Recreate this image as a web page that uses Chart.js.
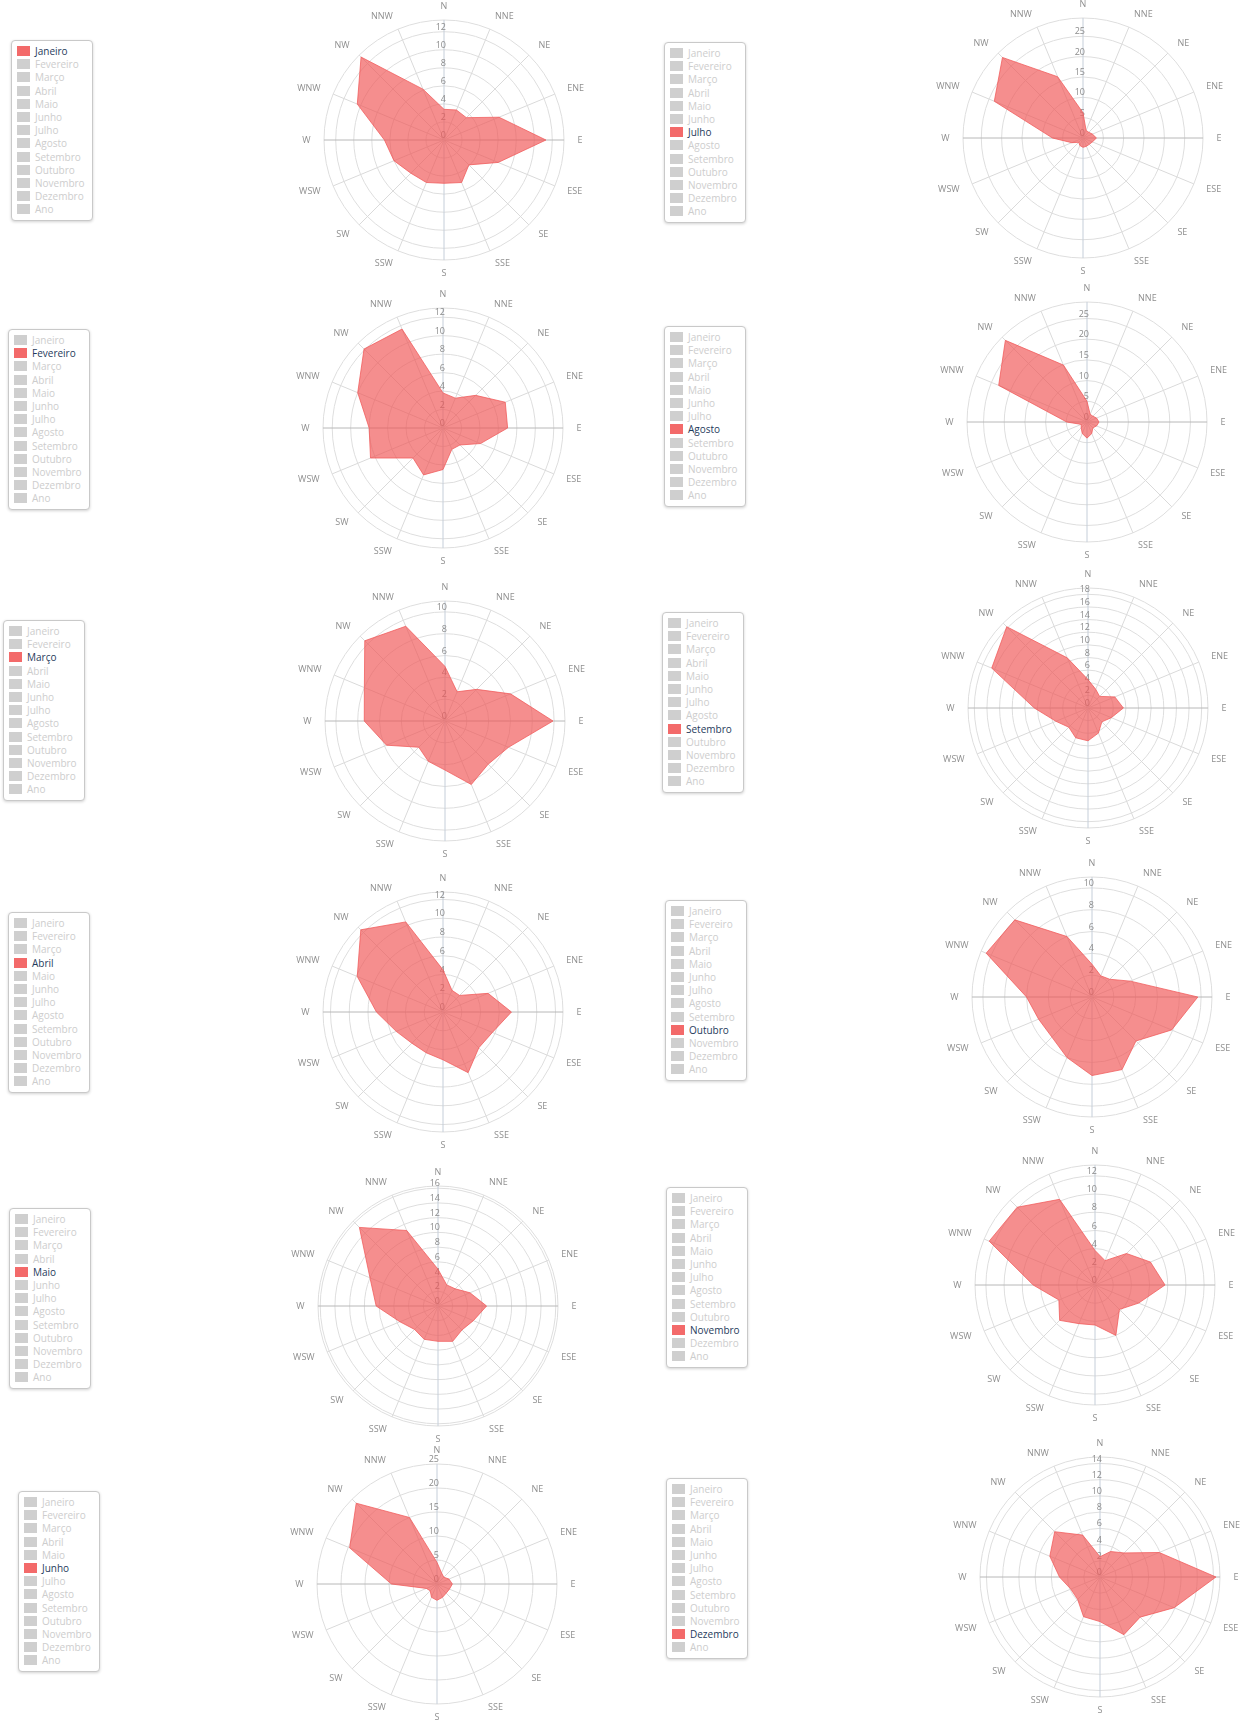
<!DOCTYPE html>
<html>
<head>
<meta charset="utf-8">
<script src="https://cdn.jsdelivr.net/npm/chart.js@4.4.1/dist/chart.umd.min.js"></script>
<style>
    body { margin: 0; background: #fff; font-family: "Open Sans", sans-serif; }
    #pagina { position: relative; width: 1247px; height: 1721px; overflow: hidden; }
    .legenda { position: absolute; border: 1px solid #c9c9c9; border-radius: 4px; box-shadow: 0 1px 3px rgba(0,0,0,0.18); padding: 4px 7px 4px 5px; background: #fff; z-index: 2; }
    .legenda div { font-size: 10px; line-height: 13.2px; height: 13.2px; color: #cdcdcd; white-space: nowrap; }
    .legenda span { display: inline-block; width: 13px; height: 10px; background: #cfcfcf; margin-right: 5px; vertical-align: -1px; }
    .legenda .ativo { color: #1f3b5c; }
    .legenda .ativo span { background: #f36a6a; }
    .grafico { position: absolute; }
</style>
</head>
<body>
<div id="pagina"></div>
<script>
// direcoes do vento (ordem horaria a partir do Norte)
var direcoes = ['N', 'NNE', 'NE', 'ENE', 'E', 'ESE', 'SE', 'SSE', 'S', 'SSW', 'SW', 'WSW', 'W', 'WNW', 'NW', 'NNW'];
var legendaItens = ['Janeiro', 'Fevereiro', 'Março', 'Abril', 'Maio', 'Junho', 'Julho', 'Agosto', 'Setembro', 'Outubro', 'Novembro', 'Dezembro', 'Ano'];

// frequencia (%) por direcao, um array por mes
var janeiro   = [3.4, 3.6, 3.5, 6.6, 11.3, 6.5, 3.9, 5.1, 4.8, 5.1, 5.2, 6.0, 6.6, 10.4, 13.0, 6.1];
var fevereiro = [3.8, 3.5, 5.0, 7.3, 7.0, 4.4, 2.6, 2.5, 4.5, 5.5, 4.6, 8.5, 8.0, 10.0, 12.1, 11.6];
var marco     = [5.0, 2.9, 4.1, 6.5, 9.9, 6.3, 5.6, 6.3, 4.5, 4.0, 3.4, 5.8, 7.4, 8.0, 10.4, 9.4];
var abril     = [4.5, 2.5, 2.5, 5.2, 7.3, 5.7, 5.4, 7.0, 5.1, 4.7, 4.7, 5.4, 7.1, 9.9, 12.4, 10.4];
var maio      = [5.0, 3.1, 3.3, 4.7, 6.6, 5.2, 4.6, 5.2, 4.8, 4.9, 4.5, 5.6, 8.4, 10.0, 15.1, 11.1];
var junho     = [4.5, 2.5, 2.0, 2.7, 3.2, 2.8, 2.7, 3.0, 3.4, 3.0, 2.0, 2.4, 9.5, 19.7, 23.8, 15.0];
var julho     = [6.2, 2.0, 2.0, 2.5, 3.3, 2.5, 2.2, 2.2, 2.3, 2.0, 1.5, 3.0, 7.5, 23.6, 28.0, 16.3];
var agosto    = [5.0, 2.0, 2.0, 2.5, 2.9, 2.5, 2.0, 3.0, 3.9, 3.0, 2.0, 1.5, 4.9, 23.1, 27.9, 14.9];
var setembro  = [4.5, 3.2, 2.6, 4.6, 5.6, 4.0, 3.1, 4.3, 5.2, 5.1, 4.3, 5.5, 8.5, 16.5, 18.2, 8.6];
var outubro   = [3.0, 2.1, 2.3, 3.8, 9.7, 7.9, 5.7, 7.2, 7.2, 6.0, 5.2, 5.3, 6.0, 10.5, 10.0, 6.0];
var novembro  = [3.8, 2.9, 4.9, 6.6, 7.7, 5.2, 3.8, 6.0, 4.4, 4.6, 5.5, 4.3, 6.8, 12.6, 12.1, 10.2];
var dezembro  = [2.5, 3.4, 4.2, 7.9, 14.3, 9.9, 7.0, 7.7, 5.5, 5.3, 3.9, 3.9, 5.0, 6.7, 7.9, 5.6];
var series = [janeiro, fevereiro, marco, abril, maio, junho, julho, agosto, setembro, outubro, novembro, dezembro];

// valor do circulo exterior de cada grafico
var maximos = [13.3, 13, 11, 12.8, 16.3, 25, 29.5, 29, 19, 11, 13.2, 14.8];

// valores com rotulo no eixo radial
var rotulosEixo = [
    [0, 2, 4, 6, 8, 10, 12],
    [0, 2, 4, 6, 8, 10, 12],
    [0, 2, 4, 6, 8, 10],
    [0, 2, 4, 6, 8, 10, 12],
    [0, 2, 4, 6, 8, 10, 12, 14, 16],
    [0, 5, 10, 15, 20, 25],
    [0, 5, 10, 15, 20, 25],
    [0, 5, 10, 15, 20, 25],
    [0, 2, 4, 6, 8, 10, 12, 14, 16, 18],
    [0, 2, 4, 6, 8, 10],
    [0, 2, 4, 6, 8, 10, 12],
    [0, 2, 4, 6, 8, 10, 12, 14]
];

// posicoes na pagina (canto da legenda, centro do grafico)
var posLegenda = [[11, 40], [8, 329], [3, 620], [8, 912], [9, 1208], [18, 1491],
                  [664, 42], [664, 326], [662, 612], [665, 900], [666, 1187], [666, 1478]];
var centros = [[444, 140], [443, 428], [445, 721], [443, 1012], [438, 1306], [437, 1584],
               [1083, 138], [1087, 422], [1088, 708], [1092, 997], [1095, 1285], [1100, 1577]];

// canvas 340x290 com padding -> area 240x240, raio 120, centro em (170, 145)
var larg = 340, alt = 290;
var pagina = document.getElementById('pagina');

// rotulos das direcoes e do eixo desenhados a mao (centrados na vertical como no original)
var rotulosPlugin = {
    id: 'rotulos',
    beforeDatasetsDraw: function(chart, args, opts) {
        var scale = chart.scales.r;
        var ctx = chart.ctx;
        ctx.save();
        ctx.font = '9px "Open Sans"';
        ctx.fillStyle = '#8c8c8c';
        ctx.textAlign = 'right';
        ctx.textBaseline = 'middle';
        opts.valores.forEach(function(v) {
            var d = scale.getDistanceFromCenterForValue(v);
            ctx.fillText(String(v), scale.xCenter + 2, scale.yCenter - d - 4.5);
        });
        ctx.restore();
    },
    afterDraw: function(chart) {
        var scale = chart.scales.r;
        var ctx = chart.ctx;
        ctx.save();
        ctx.font = '9px "Open Sans"';
        ctx.fillStyle = '#8f8f8f';
        ctx.textBaseline = 'middle';
        direcoes.forEach(function(nome, i) {
            var p = scale.getPointPosition(i, scale.drawingArea + 13.5);
            if (i === 0 || i === 8) ctx.textAlign = 'center';
            else if (i < 8) ctx.textAlign = 'left';
            else ctx.textAlign = 'right';
            ctx.fillText(nome, p.x, p.y);
        });
        ctx.restore();
    }
};

function criaLegenda(ativo, pos) {
    var box = document.createElement('div');
    box.className = 'legenda';
    box.style.left = pos[0] + 'px';
    box.style.top = pos[1] + 'px';
    legendaItens.forEach(function(nome, i) {
        var item = document.createElement('div');
        if (i === ativo) item.className = 'ativo';
        var cor = document.createElement('span');
        item.appendChild(cor);
        item.appendChild(document.createTextNode(nome));
        box.appendChild(item);
    });
    pagina.appendChild(box);
}

function criaGrafico(i) {
    var canvas = document.createElement('canvas');
    canvas.className = 'grafico';
    canvas.width = larg;
    canvas.height = alt;
    canvas.style.left = (centros[i][0] - larg / 2) + 'px';
    canvas.style.top = (centros[i][1] - alt / 2) + 'px';
    pagina.appendChild(canvas);

    var rotulos = rotulosEixo[i];
    var maximo = maximos[i];

    new Chart(canvas, {
        type: 'radar',
        data: {
            labels: direcoes,
            datasets: [{
                label: legendaItens[i],
                data: series[i],
                backgroundColor: 'rgba(240, 88, 88, 0.68)',
                borderColor: 'rgba(240, 88, 88, 0.75)',
                borderWidth: 1,
                pointRadius: 0
            }]
        },
        options: {
            responsive: false,
            animation: false,
            layout: { padding: { left: 50, right: 50, top: 25, bottom: 25 } },
            plugins: {
                legend: { display: false },
                tooltip: { enabled: false },
                rotulos: { valores: rotulos }
            },
            scales: {
                r: {
                    min: 0,
                    max: maximo,
                    afterBuildTicks: function(scale) {
                        var t = rotulos.map(function(v) { return { value: v }; });
                        if (rotulos[rotulos.length - 1] < maximo) t.push({ value: maximo });
                        scale.ticks = t;
                    },
                    ticks: { display: false },
                    grid: { circular: true, color: '#dedede' },
                    angleLines: {
                        color: function(ctx) {
                            if (ctx.index === 0 || ctx.index === 8) return '#c5ced9';
                            if (ctx.index === 4 || ctx.index === 12) return '#b8b8b8';
                            return '#dadada';
                        }
                    },
                    pointLabels: { display: false }
                }
            }
        },
        plugins: [rotulosPlugin]
    });
}

for (var i = 0; i < 12; i++) {
    criaLegenda(i, posLegenda[i]);
    criaGrafico(i);
}
</script>
</body>
</html>
